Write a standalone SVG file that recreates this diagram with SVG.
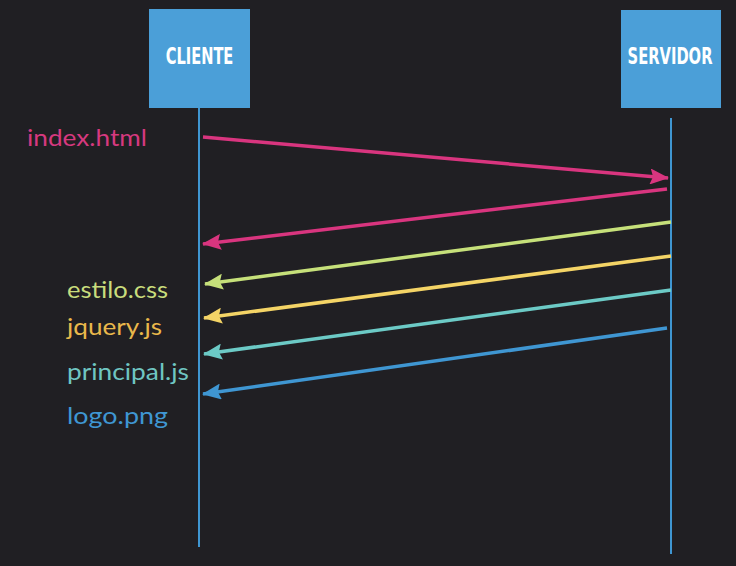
<svg xmlns="http://www.w3.org/2000/svg" width="736" height="566" viewBox="0 0 736 566">
<style>
.box{fill:#4b9fd8}
.boxt{fill:#ffffff;font-family:"DejaVu Sans Condensed","Liberation Sans",sans-serif;font-weight:bold;font-size:23px;text-anchor:middle}
.life{stroke:#3f96d2;stroke-width:2;fill:none}
.lbl{font-family:Lato,"Noto Sans",sans-serif;font-size:23px}
.msg{stroke-width:3.5;fill:none}
</style>
<defs>
<marker id="hPink" viewBox="0 0 19 16" refX="18" refY="8" markerUnits="userSpaceOnUse" markerWidth="19" markerHeight="16" orient="auto"><path d="M0,0 L19,8 L0,16 L3,8 Z" fill="#d9357f"/></marker>
<marker id="hGreen" viewBox="0 0 19 16" refX="18" refY="8" markerUnits="userSpaceOnUse" markerWidth="19" markerHeight="16" orient="auto"><path d="M0,0 L19,8 L0,16 L3,8 Z" fill="#c6e07a"/></marker>
<marker id="hYellow" viewBox="0 0 19 16" refX="18" refY="8" markerUnits="userSpaceOnUse" markerWidth="19" markerHeight="16" orient="auto"><path d="M0,0 L19,8 L0,16 L3,8 Z" fill="#f4d466"/></marker>
<marker id="hTeal" viewBox="0 0 19 16" refX="18" refY="8" markerUnits="userSpaceOnUse" markerWidth="19" markerHeight="16" orient="auto"><path d="M0,0 L19,8 L0,16 L3,8 Z" fill="#6ccac6"/></marker>
<marker id="hBlue" viewBox="0 0 19 16" refX="18" refY="8" markerUnits="userSpaceOnUse" markerWidth="19" markerHeight="16" orient="auto"><path d="M0,0 L19,8 L0,16 L3,8 Z" fill="#3f96d2"/></marker>
</defs>
<rect width="736" height="566" fill="#201f23"/>
<g id="cliente">
<rect class="box" x="149" y="9" width="101" height="99"/>
<text class="boxt" transform="translate(199.5,64) scale(0.72,1)" x="0" y="0" textLength="94" lengthAdjust="spacingAndGlyphs">CLIENTE</text>
<line class="life" x1="199" y1="108" x2="199" y2="547"/>
</g>
<g id="servidor">
<rect class="box" x="621" y="10" width="100" height="98"/>
<text class="boxt" transform="translate(670,64) scale(0.72,1)" x="0" y="0" textLength="118" lengthAdjust="spacingAndGlyphs">SERVIDOR</text>
<line class="life" x1="671" y1="118" x2="671" y2="554"/>
</g>
<g id="connectors">
<line class="msg" x1="203" y1="137" x2="668" y2="178" stroke="#d9357f" marker-end="url(#hPink)"/>
<line class="msg" x1="667" y1="189" x2="203" y2="244" stroke="#d9357f" marker-end="url(#hPink)"/>
<line class="msg" x1="671" y1="222" x2="205" y2="284" stroke="#c6e07a" marker-end="url(#hGreen)"/>
<line class="msg" x1="671" y1="256" x2="204" y2="318" stroke="#f4d466" marker-end="url(#hYellow)"/>
<line class="msg" x1="671" y1="290" x2="204" y2="354" stroke="#6ccac6" marker-end="url(#hTeal)"/>
<line class="msg" x1="667" y1="328" x2="203" y2="394" stroke="#3f96d2" marker-end="url(#hBlue)"/>
</g>
<g id="labels">
<text class="lbl" x="27" y="146" fill="#d6397f" textLength="120" lengthAdjust="spacingAndGlyphs">index.html</text>
<text class="lbl" x="67" y="298" fill="#c8dc7c" textLength="101" lengthAdjust="spacingAndGlyphs">estilo.css</text>
<text class="lbl" x="67" y="335" fill="#e9b84b" textLength="95" lengthAdjust="spacingAndGlyphs">jquery.js</text>
<text class="lbl" x="67" y="380" fill="#6fc6c2" textLength="122" lengthAdjust="spacingAndGlyphs">principal.js</text>
<text class="lbl" x="67" y="424" fill="#3f96d2" textLength="101" lengthAdjust="spacingAndGlyphs">logo.png</text>
</g>
</svg>
